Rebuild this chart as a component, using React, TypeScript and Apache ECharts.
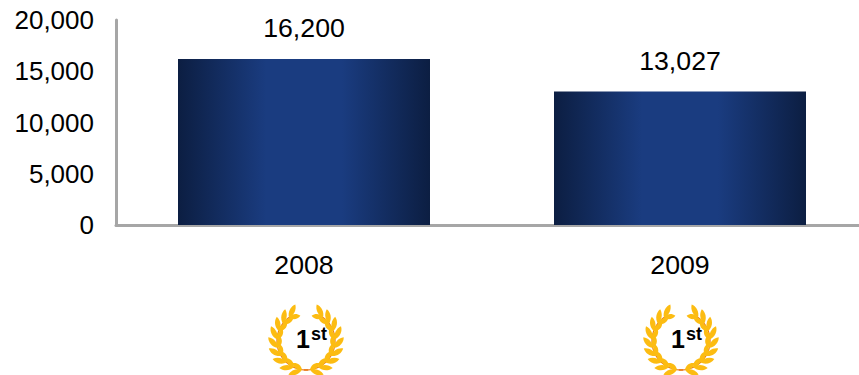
import React, { useEffect, useRef } from "react";
import * as echarts from "echarts";

const categories = ["2008", "2009"];
const values = [16200, 13027];
const ranks = [
  { ordinal: "1", suffix: "st" },
  { ordinal: "1", suffix: "st" },
];

const FONT = '"Liberation Sans", Arial, sans-serif';
const AXIS_GREY = "#a6a6a6";
const LABEL_SIZE = 26.7;
const TICK_SIZE = 26;

// A single pointed leaf, 16 wide and about 6 tall, growing from the origin along +x.
echarts.graphic.registerShape(
  "laurelLeaf",
  echarts.graphic.extendPath("M0 0C4 -4 11 -4.5 16 -1C12 3 5 3.5 0 0Z", {}),
);

// One laureate wreath: two curved stems meeting at the bottom, with paired leaves.
function wreath(cx: number, cy: number, rank: { ordinal: string; suffix: string }) {
  const children: any[] = [];
  const R = 29;
  const rad = (deg: number) => (deg * Math.PI) / 180;
  for (const side of [-1, 1]) {
    const stem: number[][] = [];
    for (let deg = -4; deg <= 146; deg += 6) {
      stem.push([cx + side * R * Math.sin(rad(deg)), cy + 1 + R * Math.cos(rad(deg))]);
    }
    children.push({
      type: "polyline",
      shape: { points: stem },
      style: { stroke: "#e8791a", lineWidth: 1.3, fill: "none" },
    });
    for (let deg = 8; deg <= 146; deg += 17) {
      const a = rad(deg);
      const px = cx + side * R * Math.sin(a);
      const py = cy + 1 + R * Math.cos(a);
      // Rotation of the stem's tangent at this point, heading towards the open top.
      const along = side > 0 ? a : Math.PI - a;
      // Outer leaf is the longer one, inner leaf the shorter one.
      children.push({
        type: "laurelLeaf",
        x: px,
        y: py,
        rotation: along - side * 0.55,
        scaleX: 0.9,
        scaleY: 0.95 * side,
        style: { fill: "#fcbc12" },
      });
      children.push({
        type: "laurelLeaf",
        x: px,
        y: py,
        rotation: along + side * 0.55,
        scaleX: 0.72,
        scaleY: -0.9 * side,
        style: { fill: "#fcbc12" },
      });
    }
  }
  children.push({
    type: "text",
    x: cx - 10,
    y: cy - 1,
    style: {
      text: rank.ordinal,
      font: `bold 25px ${FONT}`,
      fill: "#000",
      textAlign: "left",
      textVerticalAlign: "middle",
    },
  });
  children.push({
    type: "text",
    x: cx + 5,
    y: cy - 6,
    style: {
      text: rank.suffix,
      font: `bold 18px ${FONT}`,
      fill: "#000",
      textAlign: "left",
      textVerticalAlign: "middle",
    },
  });
  return { type: "group", silent: true, children };
}

export default function App() {
  const ref = useRef<HTMLDivElement>(null);

  useEffect(() => {
    document.body.style.margin = "0";
    document.body.style.overflow = "hidden";
    const chart = echarts.init(ref.current!, undefined, { renderer: "svg" });
    const barFill = new echarts.graphic.LinearGradient(0, 0, 1, 0, [
      { offset: 0, color: "#0c1e42" },
      { offset: 0.35, color: "#1a3c80" },
      { offset: 0.65, color: "#1a3c80" },
      { offset: 1, color: "#0c1e42" },
    ]);
    chart.setOption({
      animation: false,
      textStyle: { fontFamily: FONT },
      grid: { left: 116, top: 20, width: 752, height: 205, containLabel: false },
      xAxis: {
        type: "category",
        data: categories,
        axisLine: { lineStyle: { color: AXIS_GREY, width: 3 } },
        axisTick: { show: false },
        axisLabel: { color: "#000", fontSize: LABEL_SIZE, fontFamily: FONT, margin: 26 },
      },
      yAxis: {
        type: "value",
        min: 0,
        max: 20000,
        interval: 5000,
        axisLine: { show: true, lineStyle: { color: AXIS_GREY, width: 3 } },
        axisTick: { show: false },
        splitLine: { show: false },
        axisLabel: {
          color: "#000",
          fontSize: TICK_SIZE,
          fontFamily: FONT,
          margin: 22,
          formatter: (v: number) => v.toLocaleString("en-US"),
        },
      },
      series: [
        {
          type: "bar",
          data: values,
          barWidth: 252,
          itemStyle: { color: barFill },
          label: {
            show: true,
            position: "top",
            distance: 17,
            color: "#000",
            fontSize: LABEL_SIZE,
            fontFamily: FONT,
            formatter: (p: any) => Number(p.value).toLocaleString("en-US"),
          },
        },
      ],
      graphic: [wreath(306, 340, ranks[0]), wreath(681, 340, ranks[1])],
    });
    return () => chart.dispose();
  }, []);

  // The plot's category band runs slightly past the window's right edge, so the
  // chart surface is wider than the 859px page and the excess is cut off.
  return <div ref={ref} style={{ width: 880, height: 375 }} />;
}
